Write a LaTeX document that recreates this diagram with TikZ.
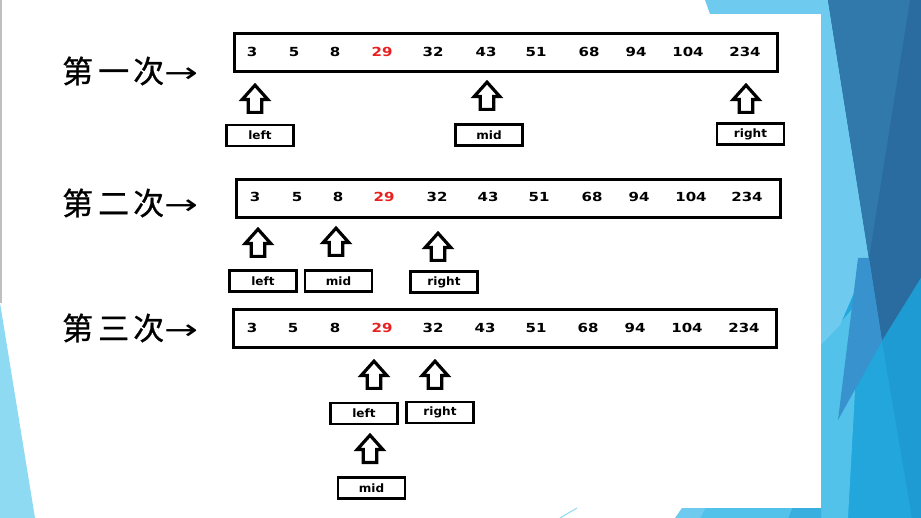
\documentclass[tikz,border=0pt]{standalone}
\usepackage{fontspec}
\newfontfamily\cjk{Noto Sans CJK SC}[FakeBold=0.8]
\newfontfamily\arrowfont{DejaVu Sans}[FakeStretch=1.45]
\newfontfamily\numfont{DejaVu Sans}[FakeStretch=1.2]
\newfontfamily\lblfont{DejaVu Sans}[FakeStretch=1.05]
\definecolor{numred}{HTML}{E82020}
\definecolor{bgbright}{HTML}{22A6DC}
\definecolor{bglight}{HTML}{6ECBEF}
\definecolor{bgdark}{HTML}{2A6C9F}
\definecolor{bgdarkb}{HTML}{3179AB}
\definecolor{bgmid}{HTML}{3892CD}
\definecolor{bgdeep}{HTML}{1E9BD2}
\definecolor{bgsoft}{HTML}{52C2EB}
\definecolor{bgpale}{HTML}{8FDAF3}
\newcommand\rowarrow{{\arrowfont\fontsize{28}{30}\selectfont →}}
\begin{document}
\begin{tikzpicture}[x=1pt,y=-1pt,
  arraybox/.style={draw, line width=3pt, inner sep=0pt, minimum width=#1, minimum height=38},
  lbl/.style={draw, line width=2.8pt, fill=white, minimum width=67, minimum height=21, inner sep=0pt,
    font=\lblfont\bfseries\fontsize{11.5}{13}\selectfont},
  num/.style={inner sep=0pt, font=\numfont\bfseries\fontsize{12.5}{14}\selectfont},
  cjklab/.style={inner sep=0pt, anchor=west, font=\cjk\fontsize{31}{33}\selectfont},
  uparrow/.pic={\draw[line width=3.2pt, fill=white, line join=miter]
    (0,2.2) -- (12.8,16.5) -- (6.8,16.5) -- (6.8,29.4) -- (-6.8,29.4) -- (-6.8,16.5) -- (-12.8,16.5) -- cycle;}
]
\useasboundingbox (0,0) rectangle (921,518);
% ---------- background ----------
\fill[white] (0,0) rectangle (921,518);
\fill[bgbright] (821,0) rectangle (921,518);
\fill[bgsoft] (821,345) -- (860,300) -- (848,518) -- (821,518) -- cycle;
\fill[bglight] (705,0) -- (828,0) -- (869,258) -- (840,325) -- (821,345) -- (821,14) -- (710,14) -- cycle;
\fill[bgdark] (828,0) -- (921,0) -- (921,278) -- (882,341) -- cycle;
\fill[bgdarkb] (828,0) -- (910,0) -- (869,258) -- cycle;
\fill[bgmid] (858,258) -- (869,258) -- (882,341) -- (838,420) -- cycle;
\fill[bgdeep] (882,341) -- (921,278) -- (921,518) -- (912,518) -- cycle;
\fill[bglight] (682,508) -- (705,508) -- (700,518) -- (675,518) -- cycle;
\fill[bgsoft] (705,508) -- (792,508) -- (788,518) -- (700,518) -- cycle;
\fill[bgbright!90!white] (792,508) -- (821,508) -- (821,518) -- (788,518) -- cycle;
\draw[bgpale, line width=1pt] (560,518) -- (577,508);
\fill[bgpale] (0,303) -- (35,518) -- (0,518) -- cycle;
\draw[black!25, line width=1.5pt] (0.75,0) -- (0.75,303);
% ---------- row labels ----------
\node[cjklab] (t1) at (62,71) {第\hspace{5pt}一\hspace{4pt}次\rowarrow};
\node[cjklab] (t2) at (62,203) {第\hspace{5pt}二\hspace{4pt}次\rowarrow};
\node[cjklab] (t3) at (62,328) {第\hspace{5pt}三\hspace{4pt}次\rowarrow};
% ---------- arrays ----------
\node[arraybox=543] (a1) at (506,53) {};
\node[arraybox=544] (a2) at (508.5,199) {};
\node[arraybox=543] (a3) at (505,329) {};
\foreach \v/\x/\c [count=\i] in {3/252/black,5/294/black,8/335/black,29/382/numred,32/433/black,43/486/black,51/536/black,68/589/black,94/636/black,104/688/black,234/745/black}
  \node[num, text=\c] (r1n\i) at (\x,52) {\v};
\foreach \v/\x/\c [count=\i] in {3/255/black,5/297/black,8/338/black,29/384/numred,32/437/black,43/488/black,51/539/black,68/592/black,94/639/black,104/691/black,234/747/black}
  \node[num, text=\c] (r2n\i) at (\x,197) {\v};
\foreach \v/\x/\c [count=\i] in {3/252/black,5/293/black,8/335/black,29/382/numred,32/433/black,43/485/black,51/536/black,68/588/black,94/635/black,104/687/black,234/744/black}
  \node[num, text=\c] (r3n\i) at (\x,328) {\v};
% ---------- pointer arrows ----------
\pic (p1l) at (255,83) {uparrow};
\pic (p1m) at (487,80) {uparrow};
\pic (p1r) at (746,83) {uparrow};
\pic (p2l) at (258,227) {uparrow};
\pic (p2m) at (336,226) {uparrow};
\pic (p2r) at (438,231) {uparrow};
\pic (p3l) at (374,359) {uparrow};
\pic (p3r) at (435,359) {uparrow};
\pic (p3m) at (370,433) {uparrow};
% ---------- pointer labels ----------
\node[lbl] (l1l) at (260,135.5) {left};
\node[lbl] (l1m) at (489,135) {mid};
\node[lbl] (l1r) at (750.5,134) {right};
\node[lbl] (l2l) at (263,281) {left};
\node[lbl] (l2m) at (338.5,281) {mid};
\node[lbl] (l2r) at (444,282) {right};
\node[lbl] (l3l) at (364,413.5) {left};
\node[lbl] (l3r) at (440,412.5) {right};
\node[lbl] (l3m) at (371.5,488) {mid};
\end{tikzpicture}
\end{document}
